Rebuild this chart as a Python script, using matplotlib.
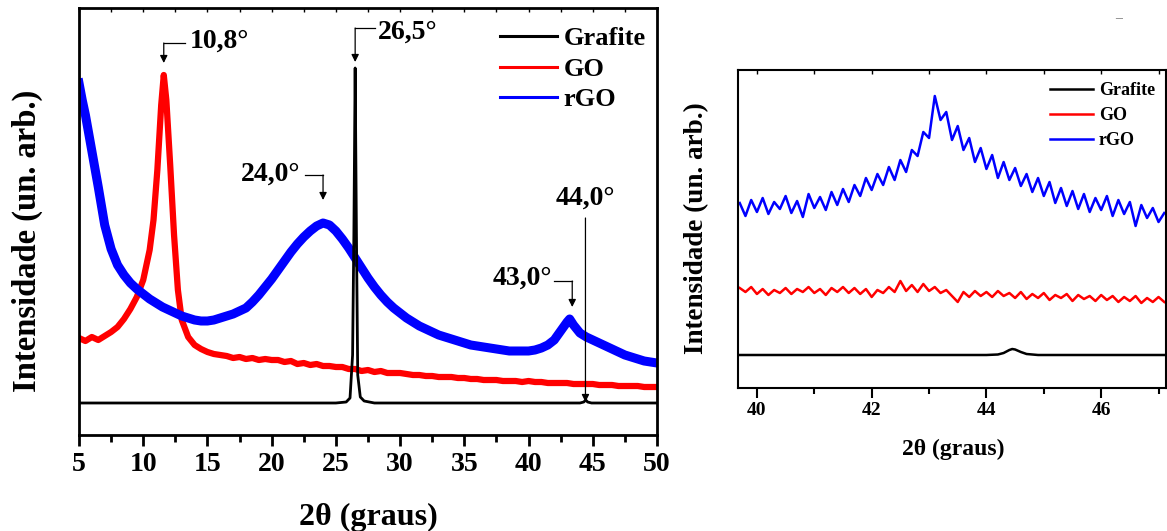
import numpy as np
import matplotlib
matplotlib.use("Agg")
import matplotlib.pyplot as plt
from matplotlib.lines import Line2D

plt.rcParams['font.family'] = ['Liberation Serif', 'DejaVu Serif']
plt.rcParams['font.weight'] = 'bold'
plt.rcParams['axes.labelweight'] = 'bold'

# ---- painel esquerdo (5-50 graus) ----
graf_x = [5, 25, 25.8, 26.1, 26.3, 26.4, 26.5, 26.6, 26.7, 26.9, 27.2, 28,
          44.0, 44.3, 44.45, 44.6, 44.9, 50]
graf_y = [32, 32, 33, 37, 80, 200, 367, 200, 60, 38, 34, 32,
          32, 33, 35, 33, 32, 32]

go_x = [5, 5.5, 6, 6.5, 7, 7.5, 8, 8.5, 9, 9.5, 10, 10.5, 10.8, 11.1, 11.4,
        11.6, 11.8, 12.1, 12.4, 12.7, 13, 13.5, 14, 14.5, 15, 15.5, 16, 16.5,
        17, 17.5, 18, 18.5, 19, 19.5, 20, 20.5, 21, 21.5, 22, 22.5, 23, 23.5,
        24, 24.5, 25, 25.5, 26, 26.5, 27, 27.5, 28, 28.5, 29, 29.5, 30, 30.5,
        31, 31.5, 32, 32.5, 33, 33.5, 34, 34.5, 35, 35.5, 36, 36.5, 37, 37.5,
        38, 38.5, 39, 39.5, 40, 40.5, 41, 41.5, 42, 42.5, 43, 43.5, 44, 44.5,
        45, 45.5, 46, 46.5, 47, 47.5, 48, 48.5, 49, 49.5, 50]
go_y = [97, 94, 98, 95, 99, 103, 108, 116, 126, 138, 155, 185, 215, 265, 330,
        360, 335, 270, 200, 145, 115, 98, 90, 86, 83, 81, 80, 79,
        77, 78, 76, 77, 75, 76, 75, 75, 73, 74, 71, 72, 70, 71,
        69, 69, 68, 68, 66, 66, 64, 65, 63, 64, 62, 62, 62, 61,
        60, 60, 59, 59, 58, 58, 58, 57, 57, 56, 56, 55, 55, 55,
        54, 54, 54, 53, 54, 53, 53, 52, 52, 52, 52, 51, 51, 51,
        51, 50, 50, 50, 49, 49, 49, 49, 48, 48, 48]

rgo_x = [5, 5.25, 5.5, 5.75, 6, 6.5, 7, 7.5, 8, 8.5, 9, 9.5, 10, 10.5, 11,
         11.5, 12, 12.5, 13, 13.5, 14, 14.5, 15, 15.5, 16, 16.5, 17, 17.5,
         18, 18.5, 19, 19.5, 20, 20.5, 21, 21.5, 22, 22.5, 23, 23.5, 24,
         24.5, 25, 25.5, 26, 26.5, 27, 27.5, 28, 28.5, 29, 29.5, 30, 30.5,
         31, 31.5, 32, 32.5, 33, 33.5, 34, 34.5, 35, 35.5, 36, 36.5, 37,
         37.5, 38, 38.5, 39, 39.5, 40, 40.5, 41, 41.5, 42, 42.5, 43, 43.2,
         43.5, 44, 44.5, 45, 45.5, 46, 46.5, 47, 47.5, 48, 48.5, 49, 49.5, 50]
rgo_y = [352, 335, 320, 302, 284, 248, 210, 186, 170, 160, 152, 146, 141, 136,
         132, 128, 125, 122, 119, 117, 115, 114, 114, 115, 117, 119, 121, 124,
         127, 133, 140, 148, 156, 165, 174, 183, 191, 198, 204, 209, 212,
         210, 204, 196, 187, 177, 167, 157, 148, 140, 133, 127, 122, 117,
         113, 109, 106, 103, 100, 98, 96, 94, 92, 90, 89, 88, 87,
         86, 85, 84, 84, 84, 84, 85, 87, 90, 95, 104, 113, 116,
         110, 102, 98, 95, 92, 89, 86, 83, 80, 78, 76, 74, 73, 72]

# rotulos dos picos
picos = ["10,8°", "26,5°", "24,0°", "43,0°", "44,0°"]

# ---- painel direito (zoom 39.7-47.1) ----
z_x = np.round(np.arange(39.7, 47.15, 0.1), 1)
z_graf_x = [39.7, 44.0, 44.2, 44.3, 44.4, 44.45, 44.5, 44.6, 44.7, 44.9, 47.1]
z_graf_y = [33, 33, 33.5, 35, 38, 39, 38.5, 36, 34, 33, 33]
z_go = [100, 96, 101, 94, 99, 93, 98, 95, 100, 94, 99, 96, 101, 95, 99, 93,
        100, 96, 101, 95, 100, 94, 99, 91, 98, 95, 101, 96, 107, 97, 103, 96,
        104, 97, 101, 95, 98, 92, 86, 96, 91, 97, 92, 96, 91, 97, 92, 95,
        90, 96, 89, 94, 90, 95, 88, 93, 90, 94, 87, 93, 89, 92, 87, 93,
        88, 92, 86, 91, 87, 92, 85, 90, 86, 91, 86]
z_rgo = [185, 172, 188, 176, 190, 174, 186, 179, 192, 175, 187, 171, 194, 180,
         191, 178, 196, 183, 199, 186, 203, 192, 210, 198, 214, 203, 221, 208,
         228, 216, 238, 232, 256, 250, 292, 268, 276, 248, 262, 238, 250, 226,
         240, 219, 233, 210, 226, 208, 220, 202, 214, 196, 210, 192, 206, 185,
         200, 182, 197, 179, 194, 176, 190, 178, 192, 172, 188, 174, 186, 162,
         183, 170, 180, 166, 175]

series = ["Grafite", "GO", "rGO"]
cores = ["black", "red", "blue"]

fig = plt.figure(figsize=(11.67, 5.31), dpi=100)
ax1 = fig.add_axes([79/1167, 1-435/531, 578/1167, 427/531])
ax2 = fig.add_axes([738/1167, 1-388/531, 428/1167, 318/531])

ax1.plot(go_x, go_y, color="red", lw=4.5, solid_joinstyle="round")
ax1.plot(rgo_x, rgo_y, color="blue", lw=6.5, solid_joinstyle="round")
ax1.plot(graf_x, graf_y, color="black", lw=2)
ax1.set_xlim(5, 50)
ax1.set_ylim(0, 427)
ax1.set_yticks([])
ax1.set_xticks(np.arange(5, 51, 5))
ax1.set_xticks(np.arange(7.5, 50, 5), minor=True)
ax1.tick_params(axis="x", which="major", direction="out", length=8, width=2,
                labelsize=20, pad=4)
ax1.tick_params(axis="x", which="minor", direction="out", length=5, width=2)
for s in ax1.spines.values():
    s.set_linewidth(2)
top1 = ax1.secondary_xaxis("top")
top1.set_xticks(np.arange(5, 51, 2.5))
top1.tick_params(direction="in", length=3, width=1, labeltop=False)
top1.spines["top"].set_visible(False)

ax1.set_xlabel("2θ (graus)", fontsize=23)
ax1.xaxis.set_label_coords(0.5, -0.192)
ax1.xaxis.label.set_verticalalignment("center")
ax1.set_ylabel("Intensidade (un. arb.)", fontsize=23.5)
ax1.yaxis.set_label_coords(-0.09, 0.454)
ax1.yaxis.label.set_verticalalignment("center")

# anotacoes (setas em cotovelo)
fs = 20
kw = dict(arrowstyle="-|>", lw=0.9, color="black", shrinkA=0, shrinkB=0,
          mutation_scale=11)
# 10,8
ax1.plot([11.6, 13.25], [392, 392], color="black", lw=0.9)
ax1.annotate("", xy=(11.6, 372), xytext=(11.6, 392), arrowprops=kw)
ax1.text(13.6, 394, picos[0], fontsize=fs, ha="left", va="center")
# 26,5
ax1.plot([26.5, 28.05], [407, 407], color="black", lw=0.9)
ax1.annotate("", xy=(26.5, 373), xytext=(26.5, 407), arrowprops=kw)
ax1.text(28.3, 403, picos[1], fontsize=fs, ha="left", va="center")
# 24,0
ax1.plot([22.6, 24.0], [260, 260], color="black", lw=0.9)
ax1.annotate("", xy=(24.0, 235), xytext=(24.0, 260), arrowprops=kw)
ax1.text(22.2, 261, picos[2], fontsize=fs, ha="right", va="center")
# 43,0
ax1.plot([42.0, 43.4], [154, 154], color="black", lw=0.9)
ax1.annotate("", xy=(43.4, 128), xytext=(43.4, 154), arrowprops=kw)
ax1.text(41.85, 157, picos[3], fontsize=fs, ha="right", va="center")
# 44,0
ax1.annotate("", xy=(44.43, 33), xytext=(44.43, 217), arrowprops=kw)
ax1.text(44.4, 237, picos[4], fontsize=fs, ha="center", va="center")

hand = [Line2D([], [], color=c, lw=2.2) for c in cores]
ax1.legend(hand, series, loc="upper left", fontsize=19, frameon=False,
           bbox_to_anchor=(500/1167, 1-27/531), bbox_transform=fig.transFigure,
           borderpad=0, borderaxespad=0, handlelength=2.15, handletextpad=0.25,
           labelspacing=0.26)

# painel direito
ax2.plot(z_x, z_go, color="red", lw=1.8)
ax2.plot(z_x, z_rgo, color="blue", lw=1.8)
ax2.plot(z_graf_x, z_graf_y, color="black", lw=1.8)
ax2.set_xlim(39.67, 47.13)
ax2.set_ylim(0, 318)
ax2.set_yticks([])
ax2.set_xticks([40, 42, 44, 46])
ax2.set_xticks([41, 43, 45, 47], minor=True)
ax2.tick_params(axis="x", which="major", direction="out", length=7, width=1.5,
                labelsize=14, pad=3)
ax2.tick_params(axis="x", which="minor", direction="out", length=4, width=1.5)
for s in ax2.spines.values():
    s.set_linewidth(1.5)
top2 = ax2.secondary_xaxis("top")
top2.set_xticks(np.arange(40, 48, 1))
top2.tick_params(direction="in", length=3, width=1, labeltop=False)
top2.spines["top"].set_visible(False)

ax2.set_xlabel("2θ (graus)", fontsize=17)
ax2.xaxis.set_label_coords(0.502, -0.192)
ax2.xaxis.label.set_verticalalignment("center")
ax2.set_ylabel("Intensidade (un. arb.)", fontsize=19.5)
ax2.yaxis.set_label_coords(-0.096, 0.503)
ax2.yaxis.label.set_verticalalignment("center")

hand2 = [Line2D([], [], color=c, lw=1.8) for c in cores]
ax2.legend(hand2, series, loc="upper left", fontsize=13, frameon=False,
           bbox_to_anchor=(1050/1167, 1-82/531), bbox_transform=fig.transFigure,
           borderpad=0, borderaxespad=0, handlelength=2.4, handletextpad=0.3,
           labelspacing=0.45)

fig.text(1119/1167, 1-19/531, "–", fontsize=10, color="#777777",
         ha="center", va="center")

fig.savefig("out.png", dpi=100)
